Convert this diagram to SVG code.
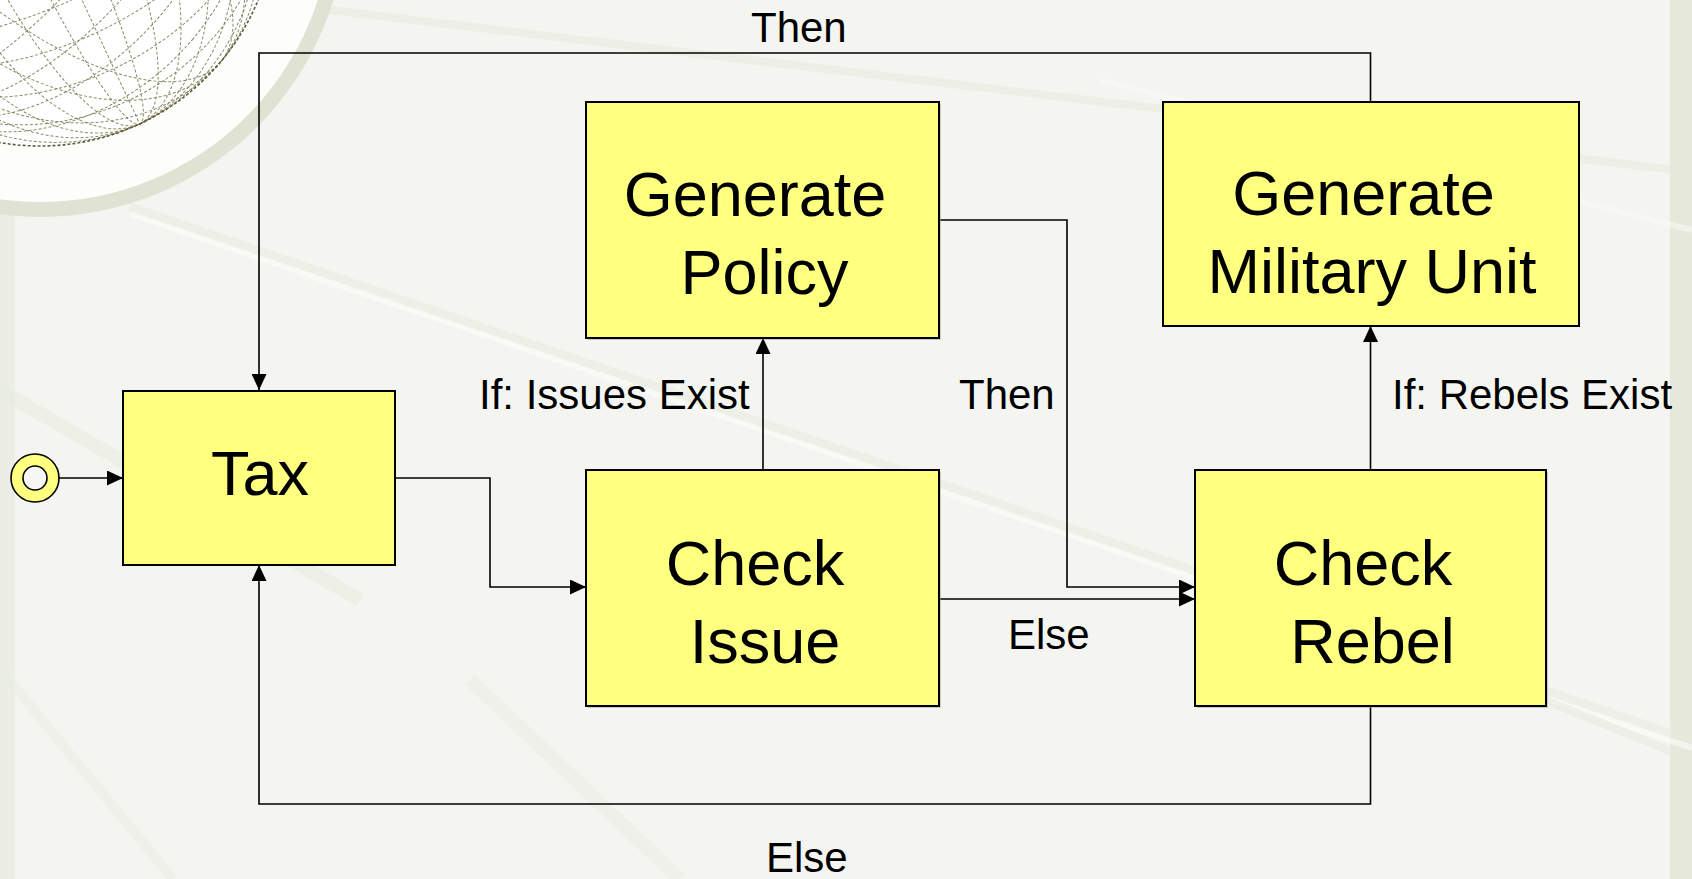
<svg xmlns="http://www.w3.org/2000/svg" width="1692" height="879" viewBox="0 0 1692 879">
  <style>
    .box { fill: #ffff80; stroke: #000; stroke-width: 2; }
    .shadow { fill: #9a9a90; opacity: 0.45; }
    .node { font-family: "Liberation Sans", Arial, sans-serif; font-size: 63px; fill: #000; text-anchor: middle; }
    .lbl { font-family: "Liberation Sans", Arial, sans-serif; font-size: 42px; fill: #000; }
    .conn { fill: none; stroke: #000; stroke-width: 1.6; }
    .streak { fill: none; stroke-linecap: butt; }
    .wire { fill: none; stroke: #75754c; stroke-width: 1; stroke-dasharray: 3 2; opacity: 0.85; }
  </style>
  <defs>
    <marker id="arrow" markerUnits="userSpaceOnUse" markerWidth="16" markerHeight="15" refX="16" refY="7.5" orient="auto">
      <path d="M0,0 L16,7.5 L0,15 z" fill="#000"/>
    </marker>
    <clipPath id="globeClip">
      <circle cx="40" cy="-90" r="238"/>
    </clipPath>
  </defs>

  <!-- background -->
  <g id="background">
    <rect x="0" y="0" width="1692" height="879" fill="#f4f5f0"/>
    <rect x="0" y="0" width="15" height="879" fill="#eceee5"/>
    <rect x="1670" y="0" width="22" height="879" fill="#e6e8dc"/>
    <line class="streak" x1="130" y1="207" x2="1692" y2="741" stroke="#e7e9de" stroke-width="9" opacity="0.5"/>
    <line class="streak" x1="130" y1="214" x2="1692" y2="748" stroke="#fbfbf8" stroke-width="6" opacity="0.6"/>
    <line class="streak" x1="330" y1="10" x2="1692" y2="172" stroke="#e6e8dc" stroke-width="8" opacity="0.5"/>
    <line class="streak" x1="1300" y1="600" x2="1692" y2="760" stroke="#e6e8dc" stroke-width="8" opacity="0.5"/>
    <line class="streak" x1="0" y1="390" x2="360" y2="600" stroke="#e6e8dc" stroke-width="14" opacity="0.45"/>
    <line class="streak" x1="470" y1="680" x2="680" y2="879" stroke="#e8eadf" stroke-width="14" opacity="0.45"/>
    <line class="streak" x1="0" y1="669" x2="173" y2="879" stroke="#e8eadf" stroke-width="10" opacity="0.45"/>
    <line class="streak" x1="1100" y1="80" x2="1692" y2="230" stroke="#fafaf7" stroke-width="6" opacity="0.5"/>
    <!-- globe ring -->
    <circle cx="40" cy="-90" r="307" fill="#e0e3d3"/>
    <circle cx="40" cy="-90" r="292" fill="#fdfdfb"/>
    <circle cx="40" cy="-90" r="238" fill="#ffffff"/>
    <g clip-path="url(#globeClip)">
      <g transform="rotate(-25 40 -90)">
        <ellipse class="wire" cx="40" cy="-90" rx="215" ry="236"/>
        <ellipse class="wire" cx="40" cy="-90" rx="185" ry="236"/>
        <ellipse class="wire" cx="40" cy="-90" rx="150" ry="236"/>
        <ellipse class="wire" cx="40" cy="-90" rx="110" ry="236"/>
        <ellipse class="wire" cx="40" cy="-90" rx="70" ry="236"/>
        <ellipse class="wire" cx="40" cy="-90" rx="30" ry="236"/>
        <ellipse class="wire" cx="40" cy="-90" rx="236" ry="210"/>
        <ellipse class="wire" cx="40" cy="-90" rx="236" ry="175"/>
        <ellipse class="wire" cx="40" cy="-90" rx="236" ry="135"/>
        <ellipse class="wire" cx="40" cy="-90" rx="236" ry="95"/>
        <ellipse class="wire" cx="40" cy="-90" rx="236" ry="50"/>
        <line class="wire" x1="-200" y1="-90" x2="280" y2="-90"/>
        <line class="wire" x1="40" y1="-330" x2="40" y2="150"/>
      </g>
      <g transform="rotate(40 40 -90)">
        <ellipse class="wire" cx="40" cy="-90" rx="200" ry="236"/>
        <ellipse class="wire" cx="40" cy="-90" rx="160" ry="236"/>
        <ellipse class="wire" cx="40" cy="-90" rx="120" ry="236"/>
        <ellipse class="wire" cx="40" cy="-90" rx="75" ry="236"/>
        <ellipse class="wire" cx="40" cy="-90" rx="236" ry="195"/>
        <ellipse class="wire" cx="40" cy="-90" rx="236" ry="150"/>
        <ellipse class="wire" cx="40" cy="-90" rx="236" ry="105"/>
      </g>
      <circle cx="40" cy="-90" r="236" fill="none" stroke="#5f5f3c" stroke-width="1.6" stroke-dasharray="3 2"/>
    </g>
  </g>

  <!-- connectors -->
  <g id="connectors">
    <line class="conn" x1="59" y1="478" x2="123" y2="478" marker-end="url(#arrow)"/>
    <polyline class="conn" points="395,478 490,478 490,587 586,587" marker-end="url(#arrow)"/>
    <line class="conn" x1="763" y1="470" x2="763" y2="338" marker-end="url(#arrow)"/>
    <polyline class="conn" points="939,220 1067,220 1067,587 1195,587" marker-end="url(#arrow)"/>
    <line class="conn" x1="939" y1="599" x2="1195" y2="599" marker-end="url(#arrow)"/>
    <line class="conn" x1="1370.5" y1="470" x2="1370.5" y2="326" marker-end="url(#arrow)"/>
    <polyline class="conn" points="1370.5,102 1370.5,53 259,53 259,390" marker-end="url(#arrow)"/>
    <polyline class="conn" points="1370.5,706 1370.5,804 259,804 259,565" marker-end="url(#arrow)"/>
    <text class="lbl" x="751" y="42">Then</text>
    <text class="lbl" x="479" y="409">If: Issues Exist</text>
    <text class="lbl" x="959" y="409">Then</text>
    <text class="lbl" x="1008" y="649">Else</text>
    <text class="lbl" x="1392" y="409">If: Rebels Exist</text>
    <text class="lbl" x="766" y="872">Else</text>
  </g>

  <!-- nodes -->
  <g id="start">
    <circle cx="35" cy="478" r="24" fill="#ffff80" stroke="#000" stroke-width="1.6"/>
    <circle cx="35" cy="478" r="12" fill="#f6f6f2" stroke="#000" stroke-width="1.6"/>
  </g>
  <g id="tax">
    <rect class="box" x="123" y="391" width="272" height="174"/>
    <text class="node" x="260" y="495">Tax</text>
  </g>
  <g id="generate-policy">
    <rect class="shadow" x="588" y="104" width="353" height="236"/>
    <rect class="box" x="586" y="102" width="353" height="236"/>
    <text class="node" x="755" y="216">Generate</text>
    <text class="node" x="764.5" y="294">Policy</text>
  </g>
  <g id="check-issue">
    <rect class="shadow" x="588" y="472" width="353" height="236"/>
    <rect class="box" x="586" y="470" width="353" height="236"/>
    <text class="node" x="755" y="585">Check</text>
    <text class="node" x="765" y="663">Issue</text>
  </g>
  <g id="generate-military-unit">
    <rect class="box" x="1163" y="102" width="416" height="224"/>
    <text class="node" x="1363.5" y="215">Generate</text>
    <text class="node" x="1372" y="293">Military Unit</text>
  </g>
  <g id="check-rebel">
    <rect class="shadow" x="1197" y="472" width="351" height="236"/>
    <rect class="box" x="1195" y="470" width="351" height="236"/>
    <text class="node" x="1363" y="585">Check</text>
    <text class="node" x="1372.5" y="663">Rebel</text>
  </g>
</svg>
